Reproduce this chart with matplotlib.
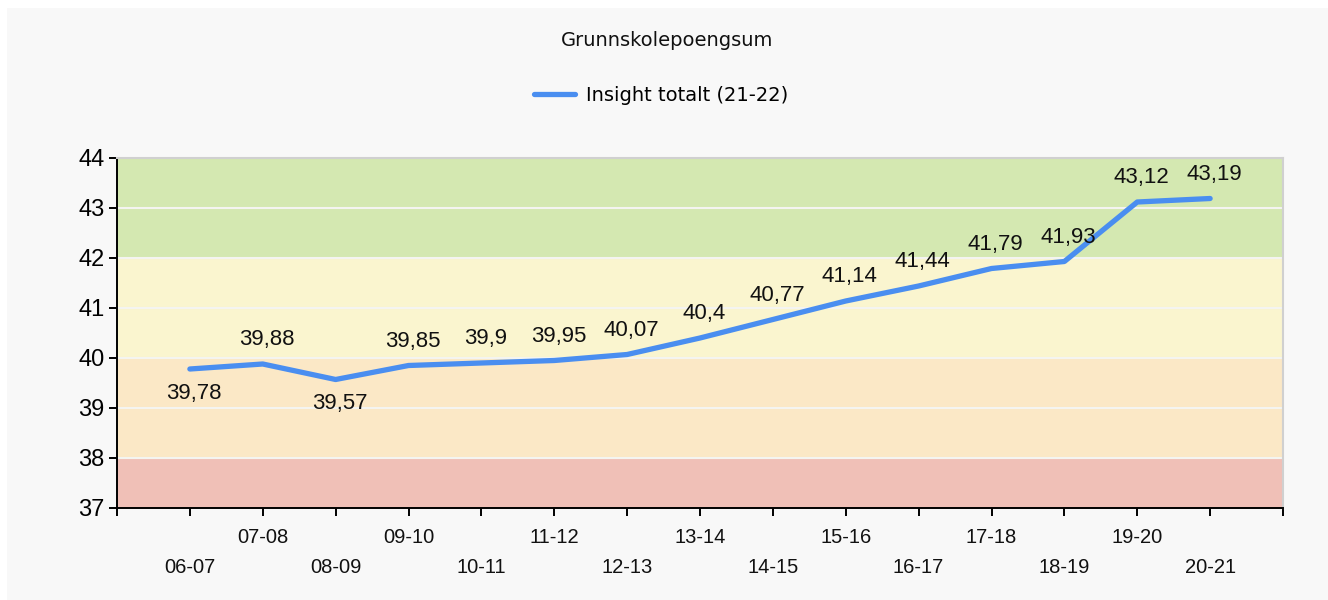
import matplotlib
matplotlib.use("Agg")
import matplotlib.pyplot as plt
from matplotlib.patches import Rectangle

# data
seasons = ["06-07", "07-08", "08-09", "09-10", "10-11", "11-12", "12-13", "13-14",
           "14-15", "15-16", "16-17", "17-18", "18-19", "19-20", "20-21"]
values = [39.78, 39.88, 39.57, 39.85, 39.9, 39.95, 40.07, 40.4,
          40.77, 41.14, 41.44, 41.79, 41.93, 43.12, 43.19]
# +1 label above the point, -1 below
label_side = [-1, 1, -1, 1, 1, 1, 1, 1, 1, 1, 1, 1, 1, 1, 1]

# colour bands behind the line: (low, high, colour)
bands = [(37, 38, "#f0c0b7"), (38, 40, "#fbe8c6"), (40, 42, "#faf5cf"), (42, 44, "#d4e8b1")]

title = "Grunnskolepoengsum"
series_name = "Insight totalt (21-22)"
line_color = "#4a8ef0"

fig = plt.figure(figsize=(13.28, 6), dpi=100, facecolor="white")
fig.patches.append(Rectangle((7 / 1328, 0), 1, 1 - 8 / 600, transform=fig.transFigure,
                             facecolor="#f8f8f8", edgecolor="none", zorder=-10))

ax = fig.add_axes([117 / 1328, 1 - 508 / 600, (1283 - 117) / 1328, (508 - 158) / 600])
ax.set_facecolor("none")

for lo, hi, c in bands:
    ax.axhspan(lo, hi, color=c, lw=0, zorder=0)
for y in range(38, 44):
    ax.axhline(y, color="#f4f4f0", lw=1.5, zorder=1)

x = list(range(1, len(values) + 1))
line, = ax.plot(x, values, color=line_color, lw=3.8, solid_capstyle="round",
                solid_joinstyle="round", zorder=3, label=series_name)

for xi, v, side in zip(x, values, label_side):
    ax.annotate(f"{v:g}".replace(".", ","), (xi, v), xytext=(3, 17.5 * side),
                textcoords="offset points", ha="center", va="center",
                fontsize=16, family="Liberation Sans", color="#111111", zorder=4)

ax.set_xlim(0, len(values) + 1)
ax.set_ylim(37, 44)
ax.set_yticks(range(37, 45))
ax.set_yticklabels([str(t) for t in range(37, 45)], fontsize=17, family="Liberation Sans")
ax.set_xticks(range(0, len(values) + 2))
ax.set_xticklabels([])
ax.tick_params(axis="both", direction="out", length=6, width=1.4, color="black")
ax.tick_params(axis="y", pad=3)

# alternating two-row category labels
for i, s in enumerate(seasons):
    dy = -21 if i % 2 == 1 else -43
    ax.annotate(s, (x[i], 0), xycoords=("data", "axes fraction"), xytext=(0, dy),
                textcoords="offset points", ha="center", va="center",
                fontsize=14.5, family="Liberation Sans", color="#111111",
                annotation_clip=False)

for side in ["left", "bottom"]:
    ax.spines[side].set_color("black")
    ax.spines[side].set_linewidth(1.4)
for side in ["top", "right"]:
    ax.spines[side].set_color("#d0d0d0")
    ax.spines[side].set_linewidth(1.5)

fig.text(667 / 1328, 1 - 41 / 600, title, ha="center", va="center",
         fontsize=14, family="DejaVu Sans", color="#111111")
ax.legend(handles=[line], loc="center", bbox_to_anchor=(661 / 1328, 1 - 95 / 600),
          bbox_transform=fig.transFigure, frameon=False, handlelength=2.1,
          handletextpad=0.55, prop={"family": "DejaVu Sans", "size": 14})

fig.savefig("out.png", dpi=100, facecolor=fig.get_facecolor())
